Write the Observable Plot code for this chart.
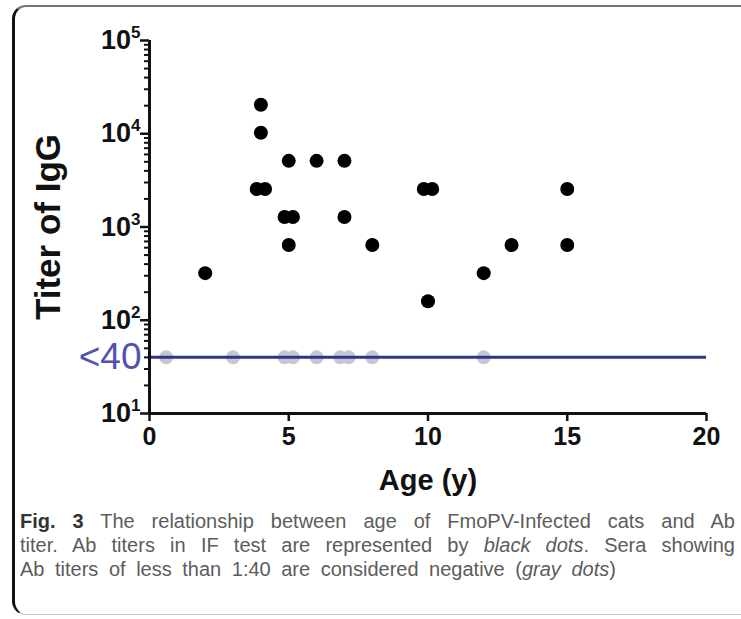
<!DOCTYPE html>
<html><head><meta charset="utf-8">
<script src="https://cdn.jsdelivr.net/npm/d3@7"></script>
<script src="https://cdn.jsdelivr.net/npm/@observablehq/plot@0.6"></script>
<style>
body{margin:0;background:#fff;width:741px;height:619px;overflow:hidden;position:relative;font-family:"Liberation Sans",Arial,sans-serif}
#frame{position:absolute;left:12px;top:5px;width:780px;height:610px;border-left:3px solid #111;border-top:2px solid #777;border-bottom:1px solid #c8c8c8;border-radius:14px 0 0 14px;box-sizing:border-box}
#chart{position:absolute;left:0;top:0}
#caption{position:absolute;left:20px;top:509px;width:715px;font-family:"Liberation Sans",Arial,sans-serif;font-size:20px;line-height:24px;color:#5c5c5c}
#caption div{white-space:nowrap;height:24px}
#caption .j{text-align:justify;text-align-last:justify}
#caption b{color:#333}
</style></head><body>
<div id="frame"></div>
<div id="chart"></div>
<div id="caption"><div class="j"><b>Fig. 3</b> The relationship between age of FmoPV-Infected cats and Ab</div><div class="j">titer. Ab titers in IF test are represented by <i>black dots</i>. Sera showing</div><div id="last">Ab titers of less than 1:40 are considered negative (<i>gray dots</i>)</div></div>
<script>
// Positive sera (black dots)
const blackAge   = [2, 4, 4, 3.85, 4.15, 5, 4.85, 5.15, 5, 6, 7, 7, 8, 9.85, 10.15, 10, 12, 13, 15, 15];
const blackTiter = [320, 20480, 10240, 2560, 2560, 5120, 1280, 1280, 640, 5120, 5120, 1280, 640, 2560, 2560, 160, 320, 640, 2560, 640];
// Negative sera (<1:40, gray dots)
const grayAge   = [0.6, 3, 4.85, 5.15, 6, 6.85, 7.15, 8, 12];
const grayTiter = [40, 40, 40, 40, 40, 40, 40, 40, 40];
// Axis ticks
const xTicks = [0, 5, 10, 15, 20];
const yMajor = [10, 100, 1000, 10000, 100000];
const yMinor = [];
for (const d of [10, 100, 1000, 10000]) for (let k = 2; k <= 9; k++) yMinor.push(d * k);
const cutoff = [40];
const cutoffLabel = "<40";
const xLabel = "Age (y)";
const yLabel = "Titer of IgG";

const black = blackAge.map((a, i) => ({age: a, titer: blackTiter[i]}));
const gray = grayAge.map((a, i) => ({age: a, titer: grayTiter[i]}));

const plot = Plot.plot({
  width: 741, height: 505,
  marginLeft: 149, marginRight: 35, marginTop: 40, marginBottom: 92,
  x: {domain: [0, 20]},
  y: {type: "log", domain: [10, 1e5]},
  style: {fontFamily: "'Liberation Sans', Arial, sans-serif", color: "#111", background: "transparent", overflow: "visible"},
  marks: [
    Plot.dot(gray, {x: "age", y: "titer", r: 7, fill: "#c6c7d2"}),
    Plot.ruleY(cutoff, {x1: 0, x2: 20, stroke: "#2f3589", strokeWidth: 3}),
    Plot.dot(black, {x: "age", y: "titer", r: 7, fill: "#000"}),
    Plot.ruleX([0], {stroke: "#111", strokeWidth: 3}),
    Plot.ruleY([10], {stroke: "#111", strokeWidth: 3}),
    Plot.axisY(yMinor, {tickSize: 5, strokeWidth: 2, tickFormat: () => "",
      label: yLabel, labelArrow: "none", labelAnchor: "center", labelOffset: 114, fontSize: 35, fontWeight: "bold"}),
    Plot.axisY(yMajor, {tickSize: 9, strokeWidth: 2.5, fontSize: 27, fontWeight: "bold", tickPadding: 0,
      tickFormat: d => "10^" + Math.round(Math.log10(d)), label: null}),
    Plot.text(cutoff, {y: d => d, frameAnchor: "left", text: () => cutoffLabel, textAnchor: "end", dx: -8,
      fontSize: 37, fill: "#5253b0"}),
    Plot.axisX(xTicks, {tickSize: 8, strokeWidth: 2.5, fontSize: 25, fontWeight: "bold", tickPadding: 6, label: null}),
    Plot.text([xLabel], {frameAnchor: "bottom", dy: 76, fontSize: 29, fontWeight: "bold", fill: "#111"})
  ]
});
document.getElementById("chart").appendChild(plot);
plot.querySelectorAll("text").forEach(t => {
  const m = /^10\^(\d)$/.exec(t.textContent);
  if (m) t.innerHTML = `10<tspan font-size="17" dy="-11">${m[1]}</tspan>`;
});
// open the word spacing of the last caption line so it reaches the reference measure
const last = document.getElementById("last");
const span = document.createElement("span");
span.innerHTML = last.innerHTML; last.innerHTML = ""; last.appendChild(span);
const w = span.getBoundingClientRect().width;
const spaces = (span.textContent.match(/ /g) || []).length;
last.style.wordSpacing = Math.max(0, Math.min(5, (632 - w) / spaces)) + "px";
</script>
</body></html>
